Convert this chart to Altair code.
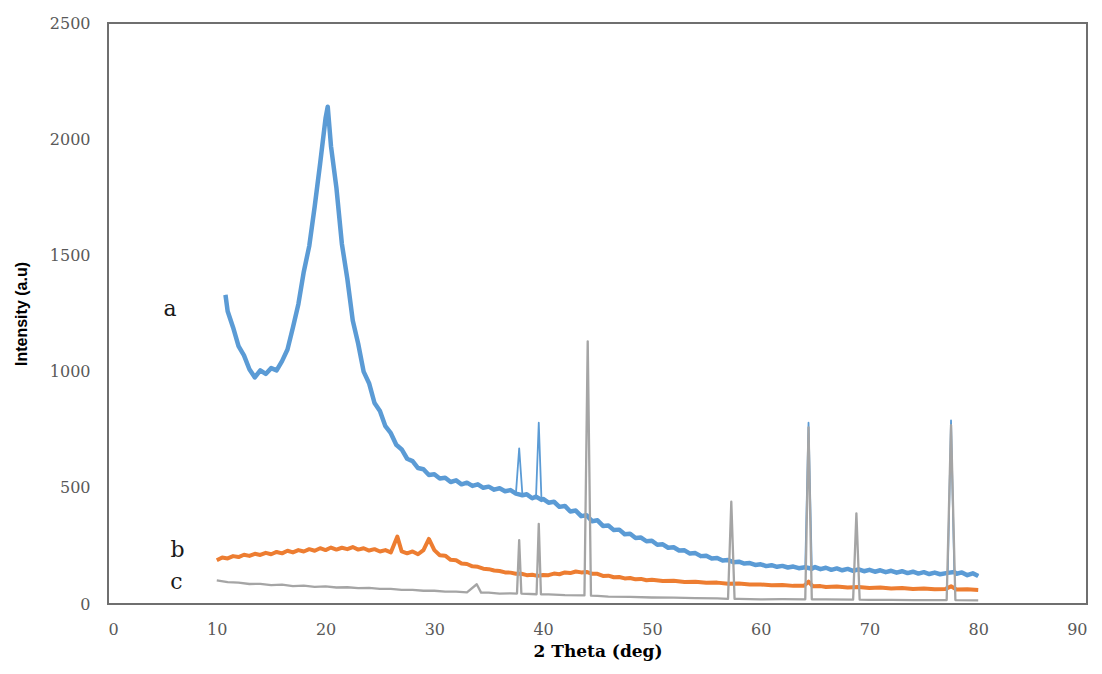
import altair as alt
import pandas as pd

# ---- series a (blue) ----
a_theta = [10.8, 11.0, 11.5, 12.0, 12.5, 13.0, 13.5, 14.0, 14.5, 15.0, 15.5, 16.0, 16.5, 17.0, 17.5,
           18.0, 18.5, 19.0, 19.5, 20.0, 20.2, 20.5, 21.0, 21.5, 22.0, 22.5, 23.0, 23.5, 24.0, 24.5,
           25.0, 25.5, 26.0, 26.5, 27.0, 27.5, 28.0, 28.5, 29.0, 29.5, 30.0, 30.5, 31.0, 31.5, 32.0,
           32.5, 33.0, 33.5, 34.0, 34.5, 35.0, 35.5, 36.0, 36.5, 37.0, 37.5, 37.8, 38.1, 38.5, 39.0,
           39.35, 39.6, 39.85, 40.0, 40.5, 41.0, 41.5, 42.0, 42.5, 43.0, 43.5, 44.0, 44.5, 45.0, 45.5,
           46.0, 46.5, 47.0, 47.5, 48.0, 48.5, 49.0, 49.5, 50.0, 50.5, 51.0, 51.5, 52.0, 52.5, 53.0,
           53.5, 54.0, 54.5, 55.0, 55.5, 56.0, 56.5, 57.0, 57.5, 58.0, 58.5, 59.0, 59.5, 60.0, 60.5,
           61.0, 61.5, 62.0, 62.5, 63.0, 63.5, 64.1, 64.4, 64.7, 65.0, 65.5, 66.0, 66.5, 67.0, 67.5,
           68.0, 68.5, 69.0, 69.5, 70.0, 70.5, 71.0, 71.5, 72.0, 72.5, 73.0, 73.5, 74.0, 74.5, 75.0,
           75.5, 76.0, 76.5, 77.2, 77.5, 77.8, 78.0, 78.5, 79.0, 79.5, 80.0]
a_int = [1330, 1260, 1190, 1110, 1070, 1010, 975, 1005, 990, 1015, 1005, 1045, 1095, 1190, 1290,
         1430, 1540, 1710, 1895, 2090, 2140, 1970, 1790, 1550, 1400, 1220, 1120, 1000, 950, 865,
         830, 765, 735, 685, 665, 625, 615, 585, 580, 555, 558, 540, 543, 525, 532,
         515, 522, 508, 515, 500, 505, 492, 498, 485, 490, 475, 670, 468, 472, 455,
         462, 780, 448, 452, 436, 440, 418, 422, 398, 402, 378, 382, 356, 360, 336,
         338, 318, 320, 300, 302, 284, 286, 270, 272, 255, 257, 242, 244, 230, 231,
         217, 219, 206, 208, 196, 198, 187, 189, 180, 182, 174, 176, 168, 171, 163,
         167, 160, 164, 157, 161, 154, 158, 780, 152, 159, 150, 156, 147, 153, 145,
         151, 143, 149, 141, 147, 139, 145, 137, 143, 135, 141, 133, 139, 131, 137,
         129, 135, 128, 134, 790, 138, 130, 136, 124, 132, 120]
# sharp reflections of series a (drawn as thin spikes)
a_peak_theta = [37.8, 39.6, 64.4, 77.5]

# ---- series b (orange) ----
b_theta = [10.0, 10.5, 11.0, 11.5, 12.0, 12.5, 13.0, 13.5, 14.0, 14.5, 15.0, 15.5, 16.0, 16.5, 17.0,
           17.5, 18.0, 18.5, 19.0, 19.5, 20.0, 20.5, 21.0, 21.5, 22.0, 22.5, 23.0, 23.5, 24.0, 24.5,
           25.0, 25.5, 26.0, 26.6, 27.0, 27.5, 28.0, 28.5, 29.0, 29.5, 30.0, 30.5, 31.0, 31.5, 32.0,
           32.5, 33.0, 33.5, 34.0, 34.5, 35.0, 35.5, 36.0, 36.5, 37.0, 37.5, 38.0, 38.5, 39.0, 39.5,
           40.0, 40.5, 41.0, 41.5, 42.0, 42.5, 43.0, 43.5, 44.0, 44.5, 45.0, 45.5, 46.0, 46.5, 47.0,
           47.5, 48.0, 48.5, 49.0, 49.5, 50.0, 51.0, 52.0, 53.0, 54.0, 55.0, 56.0, 57.0, 58.0, 59.0,
           60.0, 61.0, 62.0, 63.0, 64.0, 64.4, 64.8, 65.5, 66.0, 67.0, 68.0, 69.0, 70.0, 71.0, 72.0,
           73.0, 74.0, 75.0, 76.0, 77.0, 77.5, 78.0, 79.0, 80.0]
b_int = [188, 200, 196, 206, 202, 212, 207, 216, 211, 220, 214, 224, 218, 229, 222,
         232, 226, 236, 229, 240, 232, 243, 234, 242, 236, 245, 234, 240, 230, 236,
         226, 232, 222, 290, 226, 218, 226, 214, 232, 280, 232, 210, 208, 190, 188,
         174, 172, 162, 160, 152, 150, 144, 142, 136, 135, 130, 130, 124, 126, 121,
         125, 124, 131, 128, 136, 133, 140, 136, 138, 130, 130, 121, 122, 115, 116,
         110, 112, 106, 108, 102, 104, 99, 100, 95, 96, 91, 92, 87, 88, 84,
         84, 81, 82, 78, 79, 96, 76, 77, 73, 75, 71, 73, 69, 71, 67,
         69, 65, 67, 63, 65, 76, 62, 63, 60]

# ---- series c (gray) ----
c_theta = [10.0, 11.0, 12.0, 13.0, 14.0, 15.0, 16.0, 17.0, 18.0, 19.0, 20.0, 21.0, 22.0, 23.0, 24.0,
           25.0, 26.0, 27.0, 28.0, 29.0, 30.0, 31.0, 32.0, 33.0, 33.9, 34.3, 35.0, 36.0, 37.0, 37.6,
           37.8, 38.0, 39.4, 39.6, 39.8, 40.5, 42.0, 43.8, 44.1, 44.4, 45.0, 46.0, 48.0, 50.0, 52.0,
           54.0, 56.0, 57.0, 57.3, 57.6, 58.0, 60.0, 62.0, 64.1, 64.4, 64.7, 66.0, 68.5, 68.8, 69.1,
           70.0, 72.0, 74.0, 77.1, 77.5, 77.9, 80.0]
c_int = [102, 94, 92, 86, 87, 81, 83, 77, 79, 74, 76, 71, 72, 68, 69,
         65, 65, 61, 61, 57, 57, 53, 53, 50, 85, 49, 49, 45, 46, 45,
         275, 45, 42, 345, 42, 41, 38, 37, 1130, 36, 35, 32, 31, 28, 27,
         25, 24, 22, 440, 22, 22, 20, 21, 20, 760, 20, 20, 19, 390, 19,
         18, 18, 17, 17, 770, 17, 16]

# ---- curve labels ----
label_text = ["a", "b", "c"]
label_x = [5.7, 6.4, 6.3]
label_y = [1270, 232, 95]

x_ticks = [0, 10, 20, 30, 40, 50, 60, 70, 80, 90]
y_ticks = [0, 500, 1000, 1500, 2000, 2500]

df_a = pd.DataFrame({"theta": a_theta, "intensity": a_int})
df_b = pd.DataFrame({"theta": b_theta, "intensity": b_int})
df_c = pd.DataFrame({"theta": c_theta, "intensity": c_int})
df_l = pd.DataFrame({"theta": label_x, "intensity": label_y, "t": label_text})

xs = alt.X("theta:Q", scale=alt.Scale(domain=[0, 90], nice=False),
           axis=alt.Axis(values=x_ticks, title="2 Theta (deg)", format="d",
                         titleFont="DejaVu Serif", titleFontSize=17))
ys = alt.Y("intensity:Q", scale=alt.Scale(domain=[0, 2500], nice=False),
           axis=alt.Axis(values=y_ticks, title="Intensity (a.u)", format="d",
                         titleFont="Liberation Sans", titleFontSize=16))

peak_expr = "indexof(" + str(a_peak_theta) + ", datum.theta) < 0"

line_a_thin = alt.Chart(df_a).mark_line(color="#5B9BD5", strokeWidth=1.8, strokeJoin="round").encode(
    x=xs, y=ys, order="theta:Q")
line_a = alt.Chart(df_a).transform_filter(peak_expr).mark_line(
    color="#5B9BD5", strokeWidth=4.5, strokeJoin="round").encode(x=xs, y=ys, order="theta:Q")
line_b = alt.Chart(df_b).mark_line(color="#ED7D31", strokeWidth=4, strokeJoin="round").encode(x=xs, y=ys, order="theta:Q")
line_c = alt.Chart(df_c).mark_line(color="#A5A5A5", strokeWidth=2.3, strokeJoin="round").encode(x=xs, y=ys, order="theta:Q")
labels = alt.Chart(df_l).mark_text(font="DejaVu Serif", fontSize=22, color="#1a1a1a",
                                   align="center", baseline="middle").encode(x=xs, y=ys, text="t:N")

chart = (line_a_thin + line_a + line_b + line_c + labels).properties(
    width=979, height=581,
    autosize=alt.AutoSizeParams(type="none"),
    padding={"left": 100, "top": 15, "right": 7, "bottom": 62},
    background="white",
).configure_view(
    stroke="#6f6f6f", strokeWidth=2
).configure_axis(
    grid=False, ticks=False, domain=False,
    labelFont="DejaVu Serif", labelFontSize=16, labelColor="#595959",
    titleFontWeight="bold", titleColor="#000000",
).configure_axisX(
    labelPadding=17, titlePadding=6
).configure_axisY(
    labelPadding=18, titlePadding=20
)

chart.save("out.html", embed_options={"renderer": "svg", "actions": False})
